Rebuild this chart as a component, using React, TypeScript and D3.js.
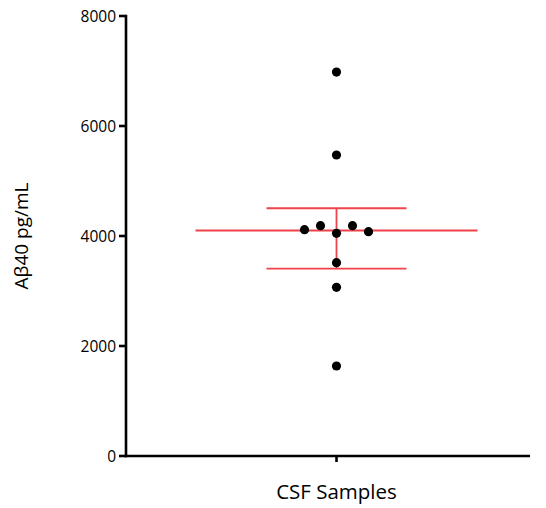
import React from "react";
import * as d3 from "d3";

const categories = ["CSF Samples"];
const values = [6980, 5473, 4115, 4187, 4049, 4187, 4078, 3515, 3067, 1636];
// horizontal swarm slot of each point (in units of point spacing)
const swarmSlot = [0, 0, -2, -1, 0, 1, 2, 0, 0, 0];
const meanValue = 4100;
const errUpper = 4505;
const errLower = 3408;
const yTicks = [0, 2000, 4000, 6000, 8000];

const W = 546;
const H = 508;
const margin = { left: 126, right: 16, top: 16, bottom: 52 };
const FONT = "'Open Sans', 'Noto Sans', sans-serif";

export default function App() {
  const y = d3.scaleLinear().domain([0, 8000]).range([H - margin.bottom, margin.top]);
  const x = d3.scalePoint<string>().domain(categories).range([margin.left, 548]).padding(0.5);
  const cx = x(categories[0])! - 0.5;
  const slot = 16;
  const red = "#f0424a";
  const meanHalf = 141;
  const capHalf = 70;
  const x0 = margin.left;
  const y0 = y(0);
  return (
    <svg width={W} height={H} style={{ position: "absolute", left: 0, top: 0 }}>
      <rect width={W} height={H} fill="#fff" />
      {/* error bars */}
      <g stroke={red} strokeWidth={1.8} fill="none">
        <line x1={cx - meanHalf} x2={cx + meanHalf} y1={y(meanValue)} y2={y(meanValue)} />
        <line x1={cx - capHalf} x2={cx + capHalf} y1={y(errUpper)} y2={y(errUpper)} />
        <line x1={cx - capHalf} x2={cx + capHalf} y1={y(errLower)} y2={y(errLower)} />
        <line x1={cx} x2={cx} y1={y(errUpper)} y2={y(errLower)} />
      </g>
      {/* points */}
      <g fill="#000">
        {values.map((v, i) => (
          <circle key={i} cx={cx + swarmSlot[i] * slot} cy={y(v)} r={4.6} />
        ))}
      </g>
      {/* axes */}
      <g stroke="#000" strokeWidth={2.6} fill="none">
        <line x1={x0} x2={x0} y1={y(8000) - 1.3} y2={y0 + 1.3} />
        <line x1={x0 - 1.3} x2={530} y1={y0} y2={y0} />
        {yTicks.map((t) => (
          <line key={t} x1={x0 - 7} x2={x0} y1={y(t)} y2={y(t)} />
        ))}
        <line x1={cx} x2={cx} y1={y0} y2={y0 + 6} />
      </g>
      <g fontFamily={FONT} fontSize={15.5} fill="#000" textAnchor="end">
        {yTicks.map((t) => (
          <text key={t} x={x0 - 10} y={y(t)} dy="0.36em">
            {t}
          </text>
        ))}
      </g>
      <text
        x={cx}
        y={499}
        textAnchor="middle"
        fontFamily={FONT}
        fontSize={20.5}
        fill="#000"
      >
        {categories[0]}
      </text>
      <text
        transform={`translate(28,${y(4000)}) rotate(-90)`}
        textAnchor="middle"
        fontFamily={FONT}
        fontSize={19}
        fill="#000"
      >
        Aβ40 pg/mL
      </text>
    </svg>
  );
}
